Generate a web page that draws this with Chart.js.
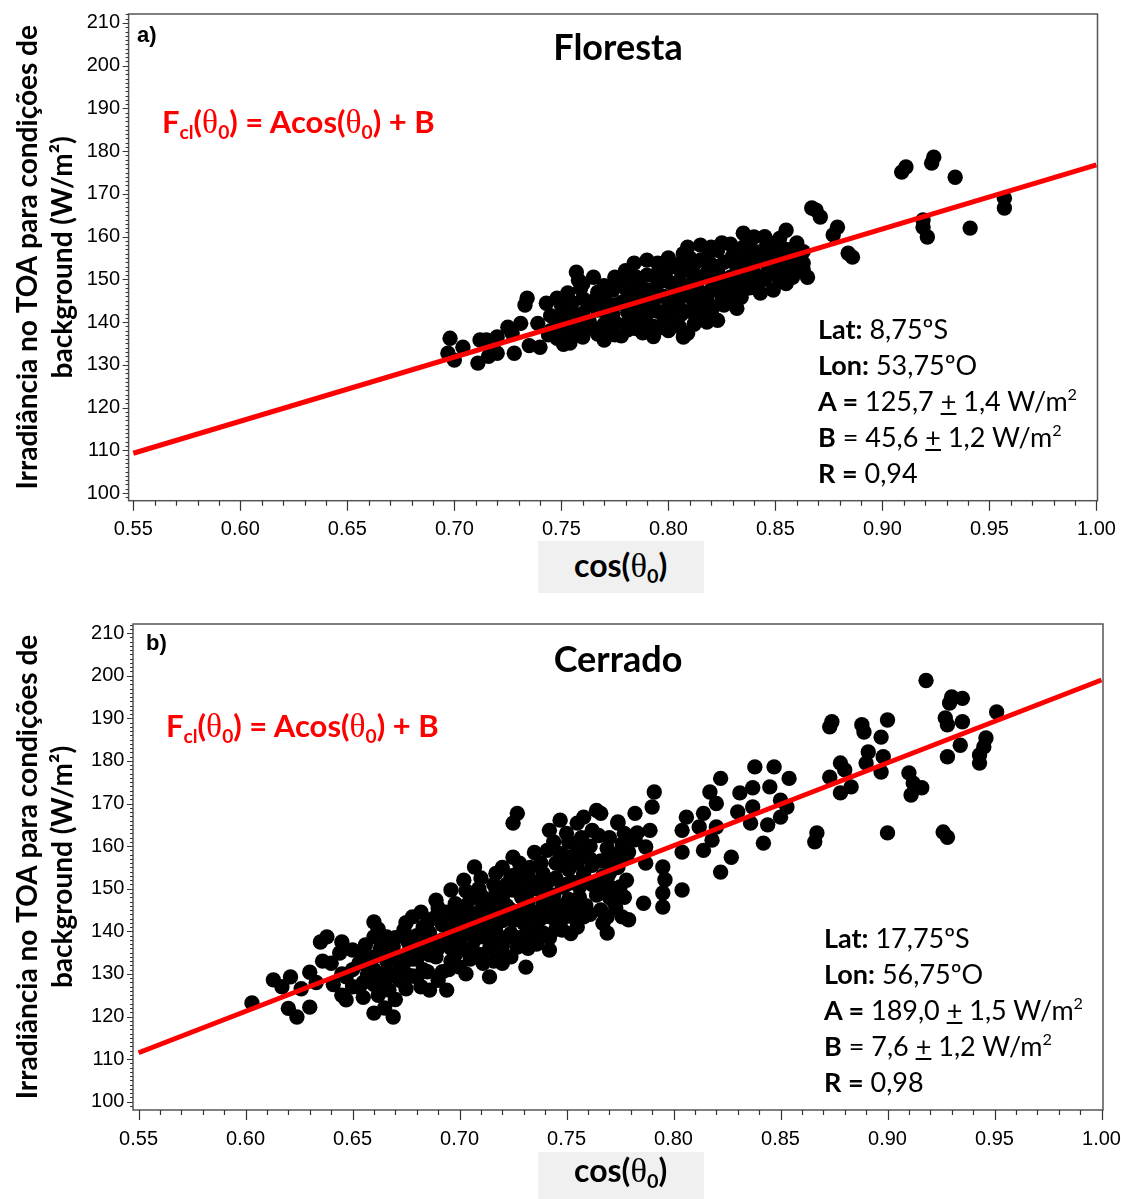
<!DOCTYPE html>
<html>
<head>
<meta charset="utf-8">
<script src="https://cdn.jsdelivr.net/npm/chart.js@4.4.1/dist/chart.umd.min.js"></script>
<style>
  body { margin:0; background:#fff; width:1121px; height:1199px; position:relative; overflow:hidden; }
  canvas { position:absolute; left:0; }
  .t { position:absolute; white-space:nowrap; font-family:Lato, sans-serif; line-height:1.2; color:#000; }
  .lbl { font-family:'Liberation Sans', Arial, sans-serif; font-weight:bold; font-size:22px; line-height:22px; }
  .ttl { font-weight:bold; font-size:36px; width:240px; text-align:center; }
  .fml { color:#ff0000; font-weight:bold; font-size:31px; }
  .th { font-family:'Liberation Serif', 'DejaVu Serif', serif; font-weight:normal; font-size:1.08em; }
  sub { font-size:0.62em; line-height:0; vertical-align:-0.3em; }
  sup { font-size:0.6em; line-height:0; vertical-align:0.7em; }
  .st { font-size:27px; line-height:36px; }
  .box { position:absolute; background:#f0f0f0; width:166px; left:538px; }
  .cx { font-weight:bold; font-size:32px; }
</style>
</head>
<body>
<canvas id="chartA" width="1121" height="600" style="top:0"></canvas>
<canvas id="chartB" width="1121" height="599" style="top:600px"></canvas>

<div class="box" style="top:541px;height:52px"></div>
<div class="box" style="top:1152px;height:47px"></div>

<div class="t lbl" style="left:137px;top:24px">a)</div>
<div class="t ttl" style="left:498px;top:24.5px">Floresta</div>
<div class="t fml" style="left:162px;top:102.4px">F<sub>cl</sub>(<span class="th">θ</span><sub>0</sub>) = Acos(<span class="th">θ</span><sub>0</sub>) + B</div>
<div class="t st" style="left:818px;top:310.5px"><b>Lat:</b> 8,75ºS<br><b>Lon:</b> 53,75ºO<br><b>A =</b> 125,7 <u>+</u> 1,4 W/m<sup>2</sup><br><b>B</b> = 45,6 <u>+</u> 1,2 W/m<sup>2</sup><br><b>R =</b> 0,94</div>
<div class="t cx" style="left:574px;top:545.4px">cos(<span class="th">θ</span><sub>0</sub>)</div>

<div class="t lbl" style="left:146px;top:632px">b)</div>
<div class="t ttl" style="left:498px;top:636.5px">Cerrado</div>
<div class="t fml" style="left:166px;top:706.4px">F<sub>cl</sub>(<span class="th">θ</span><sub>0</sub>) = Acos(<span class="th">θ</span><sub>0</sub>) + B</div>
<div class="t st" style="left:824px;top:919.5px"><b>Lat:</b> 17,75ºS<br><b>Lon:</b> 56,75ºO<br><b>A =</b> 189,0 <u>+</u> 1,5 W/m<sup>2</sup><br><b>B</b> = 7,6 <u>+</u> 1,2 W/m<sup>2</sup><br><b>R =</b> 0,98</div>
<div class="t cx" style="left:574px;top:1150.4px">cos(<span class="th">θ</span><sub>0</sub>)</div>

<script>
// tick values shared by both panels
const xTicks = [0.55, 0.60, 0.65, 0.70, 0.75, 0.80, 0.85, 0.90, 0.95, 1.00];
const yTicks = [100, 110, 120, 130, 140, 150, 160, 170, 180, 190, 200, 210];
const yTitle = ['Irradiância no TOA para condições de', 'background (W/m²)'];

// fitted lines at both ends
const florestaFit = [[0.55, 109.3], [1.00, 176.8]];
const cerradoFit = [[0.55, 111.5], [1.00, 199.0]];

// Floresta scatter (cos, W/m2)
const florestaPts = [
  [0.697,132.7],[0.698,136.2],[0.700,131.1],[0.704,134.1],[0.711,130.4],[0.712,135.8],[0.715,135.8],
  [0.716,132.0],[0.720,136.5],[0.720,132.7],[0.725,138.8],[0.727,137.4],[0.728,132.7],[0.731,139.7],
  [0.733,144.0],[0.734,145.6],[0.735,134.5],[0.739,139.7],[0.740,134.1],[0.743,144.4],[0.744,137.0],
  [0.748,145.6],[0.748,140.0],[0.748,136.2],[0.751,142.8],[0.751,138.5],[0.751,134.8],[0.753,146.8],
  [0.754,135.1],[0.757,151.7],[0.758,149.8],[0.759,147.9],[0.757,141.5],[0.757,138.0],[0.760,136.5],
  [0.763,144.0],[0.763,140.2],[0.767,142.8],[0.767,137.2],[0.767,147.0],[0.770,145.5],[0.770,139.5],
  [0.770,135.8],[0.774,147.5],[0.774,141.8],[0.773,138.8],[0.778,149.8],[0.778,144.6],[0.778,136.8],
  [0.781,151.0],[0.781,147.0],[0.781,142.3],[0.781,138.2],[0.784,153.8],[0.784,145.5],[0.784,140.6],
  [0.786,139.7],[0.786,149.0],[0.788,143.5],[0.788,137.5],[0.790,154.5],[0.790,151.0],[0.790,147.5],
  [0.790,141.8],[0.793,144.8],[0.793,139.0],[0.793,136.6],[0.795,153.8],[0.795,149.0],[0.798,141.1],
  [0.798,146.0],[0.798,150.8],[0.800,143.5],[0.800,138.0],[0.800,152.5],[0.803,148.0],[0.803,144.5],
  [0.803,140.5],[0.806,151.8],[0.806,146.2],[0.806,141.8],[0.807,136.5],[0.807,156.0],[0.809,137.4],
  [0.809,157.5],[0.809,148.5],[0.812,144.0],[0.812,139.5],[0.812,153.5],[0.812,150.0],[0.815,158.0],
  [0.815,147.0],[0.815,142.2],[0.818,155.0],[0.818,151.5],[0.818,145.2],[0.818,140.0],[0.821,149.0],
  [0.821,143.5],[0.823,140.4],[0.823,156.8],[0.823,152.0],[0.826,147.5],[0.826,144.0],[0.826,154.0],
  [0.829,150.5],[0.829,158.2],[0.829,146.0],[0.832,152.8],[0.832,148.5],[0.832,143.2],[0.835,160.8],
  [0.835,155.5],[0.835,150.0],[0.834,145.8],[0.838,157.5],[0.838,152.5],[0.838,148.0],[0.840,159.9],
  [0.840,154.0],[0.843,150.5],[0.843,146.8],[0.843,156.5],[0.846,153.5],[0.846,158.5],[0.849,147.5],
  [0.849,151.5],[0.849,156.0],[0.852,159.6],[0.852,154.2],[0.852,149.5],[0.855,161.5],[0.855,157.0],
  [0.855,152.0],[0.858,155.0],[0.858,150.5],[0.860,158.5],[0.863,153.8],[0.863,152.2],[0.863,156.5],
  [0.865,150.5],[0.867,166.7],[0.869,166.2],[0.871,164.6],[0.877,160.4],[0.879,162.2],[0.884,156.1],
  [0.886,155.2],[0.909,175.1],[0.911,176.3],[0.923,177.2],[0.924,178.6],[0.934,173.9],[0.919,163.9],
  [0.919,162.2],[0.921,159.9],[0.941,162.0],[0.957,169.0],[0.957,166.7],
  [0.745,141.5],[0.745,138.0],[0.750,144.0],[0.750,141.0],[0.750,137.5],[0.755,144.5],[0.755,139.5],
  [0.755,136.5],[0.760,149.0],[0.760,145.5],[0.760,142.0],[0.760,139.0],[0.765,150.5],[0.765,145.0],
  [0.765,138.5],[0.770,148.5],[0.770,142.5],[0.770,137.5],[0.775,150.5],[0.775,144.0],[0.775,140.0],
  [0.775,137.0],[0.780,152.0],[0.780,148.0],[0.780,139.5],[0.785,150.5],[0.785,147.5],[0.785,143.0],
  [0.785,138.5],[0.790,145.0],[0.790,139.0],[0.795,151.5],[0.795,146.5],[0.795,142.5],[0.795,138.5],
  [0.800,155.0],[0.800,149.5],[0.800,145.5],[0.800,141.0],[0.805,153.5],[0.805,149.5],[0.805,143.5],
  [0.805,139.0],[0.810,155.0],[0.810,152.0],[0.810,146.0],[0.810,142.5],[0.815,154.5],[0.815,150.5],
  [0.815,144.5],[0.820,157.5],[0.820,153.5],[0.820,147.5],[0.820,142.0],[0.825,158.5],[0.825,150.0],
  [0.825,146.0],[0.830,155.5],[0.830,149.0],[0.830,145.0],[0.835,157.5],[0.835,152.5],[0.835,147.5],
  [0.840,156.5],[0.840,151.5],[0.840,149.0],[0.845,160.0],[0.845,155.0],[0.845,150.0],[0.850,158.5],
  [0.850,153.0],[0.855,154.5],[0.855,149.0],[0.860,155.5],[0.860,152.0]
];

// Cerrado scatter (cos, W/m2)
const cerradoPts = [
  [0.603,123.2],[0.613,128.6],[0.617,127.0],[0.621,129.3],[0.620,121.9],[0.624,119.9],[0.626,126.5],
  [0.630,130.4],[0.630,122.2],[0.633,128.0],[0.635,137.5],[0.638,138.7],[0.636,133.0],[0.640,132.5],
  [0.641,127.5],[0.644,134.9],[0.645,130.0],[0.647,129.3],[0.647,123.9],[0.650,135.6],[0.650,127.0],
  [0.653,126.9],[0.653,132.5],[0.656,136.8],[0.657,129.8],[0.660,142.2],[0.660,138.7],[0.660,120.8],
  [0.660,134.0],[0.660,131.0],[0.660,127.5],[0.658,132.5],[0.663,136.0],[0.663,129.0],[0.666,138.7],
  [0.666,133.0],[0.666,130.5],[0.667,126.2],[0.669,119.9],[0.669,136.5],[0.672,134.0],[0.672,131.5],
  [0.672,128.5],[0.674,140.3],[0.674,132.5],[0.676,137.5],[0.676,135.0],[0.678,143.4],[0.678,129.5],
  [0.680,136.3],[0.680,129.3],[0.680,139.0],[0.680,133.5],[0.683,141.0],[0.683,136.0],[0.683,131.0],
  [0.686,139.6],[0.686,126.2],[0.686,134.5],[0.688,143.1],[0.688,137.5],[0.689,134.0],[0.689,147.3],
  [0.692,138.0],[0.692,141.5],[0.692,130.5],[0.694,126.2],[0.694,144.5],[0.696,149.7],[0.696,136.0],
  [0.696,133.0],[0.698,140.0],[0.698,146.5],[0.700,144.3],[0.700,131.6],[0.700,137.5],[0.702,152.0],
  [0.702,139.6],[0.702,142.0],[0.703,135.6],[0.705,147.5],[0.705,133.5],[0.707,155.1],[0.707,141.0],
  [0.707,138.0],[0.709,150.0],[0.709,144.5],[0.711,132.5],[0.711,138.7],[0.711,146.5],[0.714,147.3],
  [0.714,129.3],[0.714,142.0],[0.714,136.0],[0.717,153.6],[0.717,140.0],[0.717,149.0],[0.719,144.5],
  [0.719,134.0],[0.720,132.5],[0.722,151.0],[0.722,138.5],[0.722,146.0],[0.725,157.4],[0.725,149.7],
  [0.725,165.4],[0.725,142.5],[0.727,167.7],[0.727,136.3],[0.727,153.5],[0.729,145.0],[0.729,148.0],
  [0.730,141.9],[0.731,131.6],[0.731,139.0],[0.733,149.7],[0.733,155.0],[0.733,144.0],[0.736,151.5],
  [0.736,141.5],[0.736,137.0],[0.739,153.6],[0.739,139.6],[0.739,146.5],[0.741,159.0],[0.741,143.5],
  [0.741,149.0],[0.742,163.7],[0.742,147.3],[0.742,135.6],[0.745,152.5],[0.745,145.0],[0.745,140.5],
  [0.745,156.0],[0.747,166.1],[0.747,158.3],[0.748,150.4],[0.748,140.3],[0.748,143.0],[0.751,154.5],
  [0.751,147.5],[0.751,161.0],[0.753,145.0],[0.753,151.5],[0.755,165.4],[0.755,159.0],[0.755,141.0],
  [0.755,156.0],[0.756,150.4],[0.756,148.0],[0.758,166.8],[0.758,143.4],[0.758,153.5],[0.759,158.0],
  [0.759,146.0],[0.762,163.7],[0.762,151.0],[0.762,155.5],[0.764,168.4],[0.764,148.5],[0.766,156.5],
  [0.766,167.7],[0.766,145.0],[0.767,149.7],[0.767,141.9],[0.767,153.0],[0.769,139.6],[0.769,156.5],
  [0.769,152.5],[0.769,143.4],[0.769,159.5],[0.770,153.6],[0.772,150.0],[0.772,147.0],[0.774,165.7],
  [0.774,165.4],[0.774,155.0],[0.775,150.4],[0.776,143.4],[0.776,160.5],[0.778,157.4],[0.778,152.0],
  [0.779,158.6],[0.779,142.7],[0.782,167.7],[0.782,161.5],[0.783,163.1],[0.786,146.6],[0.787,159.8],
  [0.787,156.0],[0.789,163.7],[0.790,169.2],[0.791,172.7],[0.795,155.1],[0.795,149.0],[0.795,145.7],
  [0.796,152.1],[0.804,163.7],[0.804,158.6],[0.804,149.7],[0.806,166.8],[0.812,164.5],[0.814,167.7],
  [0.814,159.0],[0.817,172.7],[0.818,161.4],[0.820,170.0],[0.820,164.5],[0.822,175.9],[0.822,153.9],
  [0.827,157.4],[0.830,168.0],[0.831,172.5],[0.836,165.4],[0.837,173.7],[0.837,169.2],[0.838,178.6],
  [0.842,160.7],[0.844,165.0],[0.845,173.9],[0.847,178.6],[0.850,170.8],[0.850,166.8],[0.853,169.2],
  [0.854,175.9],[0.866,161.0],[0.867,163.1],[0.873,176.2],[0.873,188.0],[0.874,189.2],[0.878,179.5],
  [0.878,172.5],[0.880,177.9],[0.883,173.9],[0.888,188.5],[0.889,186.8],[0.890,179.5],[0.891,182.1],
  [0.897,185.6],[0.897,177.4],[0.898,181.0],[0.900,189.6],[0.900,163.1],[0.910,177.2],[0.911,172.0],
  [0.912,174.8],[0.916,173.7],[0.918,198.9],[0.926,163.3],[0.927,190.1],[0.928,188.5],[0.928,181.0],
  [0.928,162.1],[0.929,193.6],[0.930,195.0],[0.934,183.7],[0.935,194.7],[0.935,189.2],[0.943,181.4],
  [0.943,179.5],[0.945,183.3],[0.946,185.4],[0.951,191.5],
  [0.645,137.5],[0.645,125.0],[0.650,131.0],[0.655,134.0],[0.655,128.0],[0.655,124.5],[0.662,140.5],
  [0.662,125.0],[0.665,135.5],[0.665,128.0],[0.665,122.0],[0.670,138.5],[0.670,129.5],[0.670,124.0],
  [0.675,142.0],[0.675,130.0],[0.675,126.5],[0.678,137.0],[0.678,133.5],[0.682,144.5],[0.682,138.5],
  [0.682,127.0],[0.685,142.0],[0.685,130.5],[0.690,145.5],[0.690,136.0],[0.690,128.5],[0.695,141.5],
  [0.695,138.5],[0.695,131.0],[0.698,143.0],[0.698,134.5],[0.703,149.5],[0.703,146.0],[0.703,130.0],
  [0.706,144.0],[0.706,136.0],[0.710,152.5],[0.710,148.5],[0.710,141.0],[0.710,134.5],[0.713,144.5],
  [0.713,139.0],[0.716,151.0],[0.716,145.5],[0.716,137.5],[0.716,133.0],[0.720,155.0],[0.720,148.0],
  [0.720,142.5],[0.720,136.5],[0.724,153.0],[0.724,145.0],[0.724,139.5],[0.724,134.0],[0.728,156.0],
  [0.728,150.5],[0.728,143.5],[0.728,138.5],[0.732,153.0],[0.732,147.0],[0.732,136.0],[0.735,158.5],
  [0.735,144.5],[0.735,139.5],[0.738,156.0],[0.738,149.5],[0.738,143.0],[0.742,152.0],[0.742,138.5],
  [0.744,161.0],[0.744,148.5],[0.744,143.0],[0.748,155.5],[0.748,146.0],[0.750,163.0],[0.750,157.5],
  [0.750,151.0],[0.752,143.5],[0.752,139.5],[0.757,162.0],[0.757,152.0],[0.757,146.0],[0.761,160.0],
  [0.761,157.0],[0.761,144.0],[0.765,162.5],[0.765,151.5],[0.770,162.0],[0.770,148.0],[0.773,158.0],
  [0.773,145.5],[0.777,163.0],[0.777,148.0]
];

// frame plus major/minor tick marks, drawn from the chart's own scales
const frameTicks = {
  id: 'frameTicks',
  afterDraw(chart) {
    const { ctx, chartArea: a, scales: { x, y } } = chart;
    ctx.save();
    ctx.strokeStyle = '#555';
    ctx.lineWidth = 1.5;
    ctx.strokeRect(a.left, a.top, a.right - a.left, a.bottom - a.top);
    ctx.strokeStyle = '#333';
    ctx.lineWidth = 1.2;
    ctx.beginPath();
    for (let v = Math.ceil(y.min); v <= y.max; v++) {
      const p = Math.round(y.getPixelForValue(v)) + 0.5;
      const len = v % 10 === 0 ? 6 : 3;
      ctx.moveTo(a.left - len, p);
      ctx.lineTo(a.left, p);
    }
    for (let i = 55; i <= 100; i++) {
      const p = Math.round(x.getPixelForValue(i / 100)) + 0.5;
      const len = i % 5 === 0 ? 10 : 5;
      ctx.moveTo(p, a.bottom);
      ctx.lineTo(p, a.bottom + len);
    }
    ctx.stroke();
    ctx.restore();
  }
};

function makeChart(id, pts, fit, g) {
  const tickFont = { family: "'Liberation Sans', Arial, sans-serif", size: 20 };
  return new Chart(document.getElementById(id), {
    type: 'scatter',
    data: {
      datasets: [
        {
          data: fit.map(p => ({ x: p[0], y: p[1] })),
          showLine: true,
          borderColor: '#ff0000',
          borderWidth: 5,
          pointRadius: 0
        },
        {
          data: pts.map(p => ({ x: p[0], y: p[1] })),
          backgroundColor: '#000',
          borderWidth: 0,
          pointRadius: 7.7
        }
      ]
    },
    options: {
      responsive: false,
      animation: false,
      layout: { padding: { top: g.top, right: g.right, left: 0, bottom: 0 } },
      plugins: { legend: { display: false }, tooltip: { enabled: false } },
      scales: {
        x: {
          type: 'linear',
          min: g.xmin, max: g.xmax,
          grid: { display: false, drawTicks: false },
          border: { display: false },
          afterBuildTicks: s => { s.ticks = xTicks.map(v => ({ value: v })); },
          afterFit: s => { s.height = g.xh; s.paddingLeft = 0; s.paddingRight = 0; },
          ticks: { font: tickFont, color: '#000', padding: 17, maxRotation: 0, autoSkip: false,
                   callback: v => v.toFixed(2) }
        },
        y: {
          min: g.ymin, max: g.ymax,
          grid: { display: false, drawTicks: false },
          border: { display: false },
          afterBuildTicks: s => { s.ticks = yTicks.map(v => ({ value: v })); },
          afterFit: s => { s.width = g.yw; s.paddingTop = 0; s.paddingBottom = 0; },
          ticks: { font: tickFont, color: '#000', padding: 8.6, autoSkip: false },
          title: {
            display: true,
            text: yTitle,
            color: '#000',
            font: { family: 'Lato, sans-serif', weight: 'bold', size: 28, lineHeight: 1.25 },
            padding: { top: 10, bottom: 0 }
          }
        }
      }
    },
    plugins: [frameTicks]
  });
}

makeChart('chartA', florestaPts, florestaFit,
  { top: 14, right: 23.5, xh: 99.3, yw: 128.6, xmin: 0.5478, xmax: 1.0005, ymin: 98.2, ymax: 212.1 });
makeChart('chartB', cerradoPts, cerradoFit,
  { top: 24, right: 18, xh: 89, yw: 133, xmin: 0.5474, xmax: 1.0007, ymin: 98.05, ymax: 212.15 });
</script>
</body>
</html>
